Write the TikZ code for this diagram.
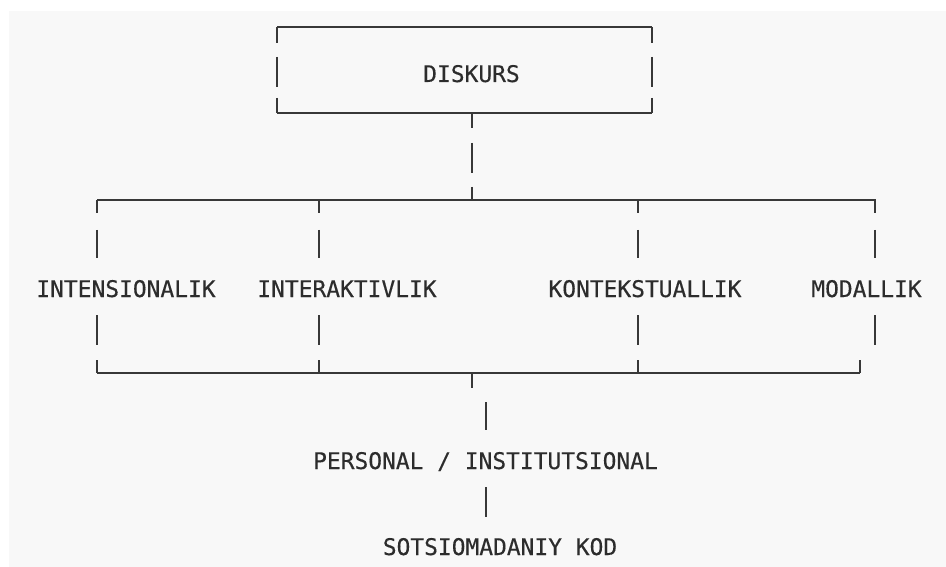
\documentclass[tikz,border=0pt]{standalone}
\usepackage{fontspec}
\newfontfamily\lblfont[FakeBold=0.35]{DejaVu Sans Mono}
\begin{document}
\begin{tikzpicture}[x=1pt,y=-1pt,
  lbl/.style={anchor=base,inner sep=0pt,text=txt,font=\lblfont\fontsize{22.9}{27}\selectfont},
  hline/.style={draw=ink,line width=1.9pt},
  vbar/.style={draw=ink,line width=1.7pt},
  boxside/.style={vbar,dash pattern=on 16pt off 14pt on 30pt off 11pt on 15pt},
  stemdash/.style={vbar,dash pattern=on 15pt off 15pt on 30pt off 14pt on 13pt},
  coldash/.style={vbar,dash pattern=on 13pt off 17pt on 28pt off 57pt on 30pt off 15pt on 13pt}]
\definecolor{ink}{HTML}{383838}
\definecolor{txt}{HTML}{2C2C2C}
\definecolor{bg}{HTML}{F8F8F8}
\useasboundingbox (0,0) rectangle (946,567);
\fill[white] (0,0) rectangle (946,567);
\fill[bg] (9,11) rectangle (946,567);
% coordinates
\coordinate (btl) at (277,27); \coordinate (btr) at (652,27);
\coordinate (bbl) at (277,113); \coordinate (bbr) at (652,113);
\coordinate (bstem) at (472,113);
\coordinate (hl) at (97,200); \coordinate (hr) at (876,200); \coordinate (hm) at (472,200);
\coordinate (c1t) at (97,200); \coordinate (c1b) at (97,373);
\coordinate (c2t) at (319,200); \coordinate (c2b) at (319,373);
\coordinate (c3t) at (638,200); \coordinate (c3b) at (638,373);
\coordinate (c4t) at (875,200); \coordinate (c4b) at (875,345);
\coordinate (c4k) at (860,360); \coordinate (c4e) at (860,373);
\coordinate (lm) at (472,373);
\coordinate (s1) at (472,388);
\coordinate (s2t) at (486,402); \coordinate (s2b) at (486,430);
\coordinate (s3t) at (486,487); \coordinate (s3b) at (486,517);
% texts
\node[lbl] (disk) at (471.5,82) {DISKURS};
\node[lbl] (int) at (126,297) {INTENSIONALIK};
\node[lbl] (inter) at (347,297) {INTERAKTIVLIK};
\node[lbl] (kont) at (645,297) {KONTEKSTUALLIK};
\node[lbl] (mod) at (866.5,297) {MODALLIK};
\node[lbl] (pers) at (485.5,469) {PERSONAL / INSTITUTSIONAL};
\node[lbl] (kod) at (500,555) {SOTSIOMADANIY KOD};
% box
\draw[hline] (btl) -- (btr);
\draw[hline] (bbl) -- (bbr);
\draw[boxside] (btl) -- (bbl);
\draw[boxside] (btr) -- (bbr);
% stem
\draw[stemdash] (bstem) -- (hm);
% horizontal lines
\draw[hline] (hl) -- (hr);
\draw[hline] (c1b) -- (c4e);
% columns
\draw[coldash] (c1t) -- (c1b);
\draw[coldash] (c2t) -- (c2b);
\draw[coldash] (c3t) -- (c3b);
\draw[coldash] (c4t) -- (c4b);
\draw[vbar] (c4k) -- (c4e);
% bottom stem
\draw[vbar] (lm) -- (s1);
\draw[vbar] (s2t) -- (s2b);
\draw[vbar] (s3t) -- (s3b);
\end{tikzpicture}
\end{document}
